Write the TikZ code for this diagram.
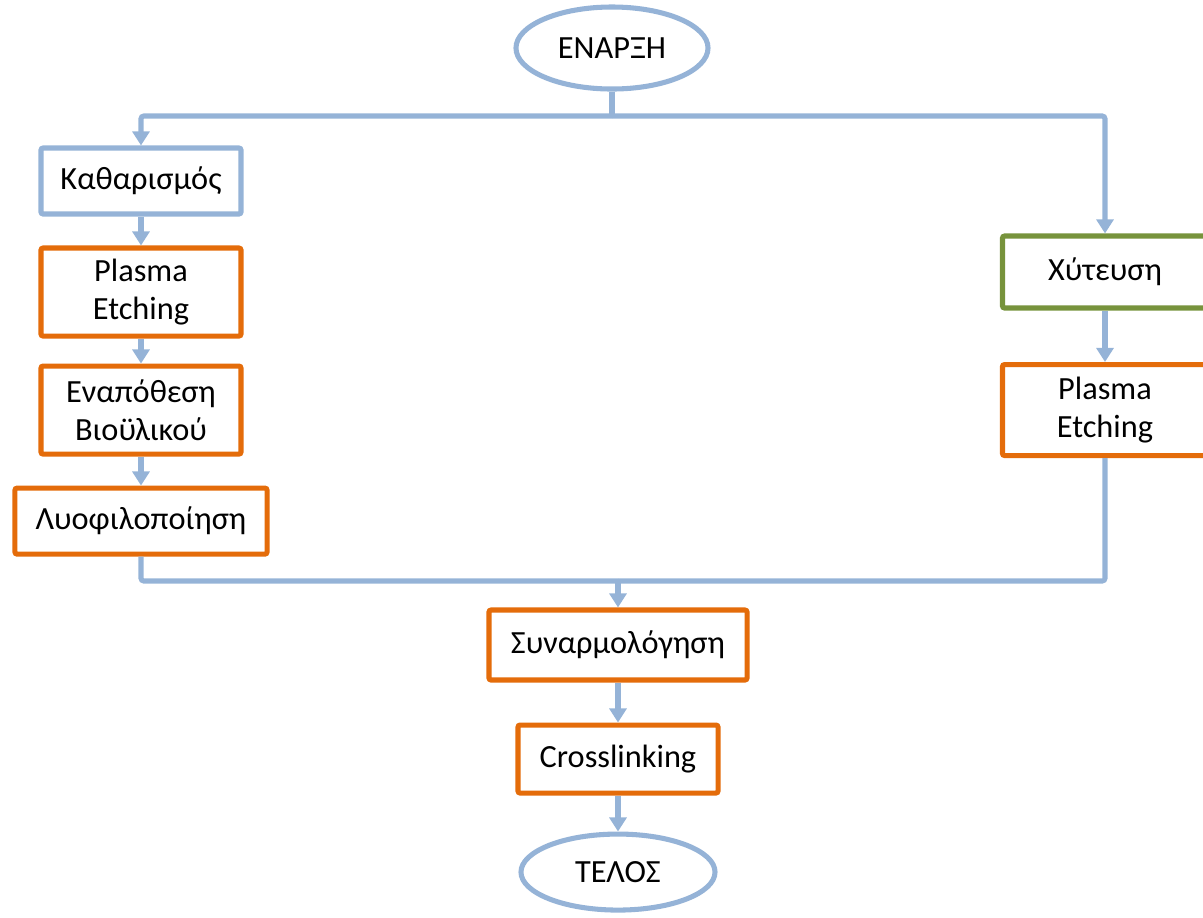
\documentclass[tikz,border=0pt]{standalone}
\usepackage{fontspec}
\setmainfont{Carlito}
\usepackage{tikz}
\usetikzlibrary{shapes,arrows.meta}
\definecolor{flowBlue}{RGB}{149,179,215}
\definecolor{flowOrange}{RGB}{228,108,10}
\definecolor{flowGreen}{RGB}{119,147,60}
\tikzstyle{stage} = [rectangle, draw, line width=3.6pt, rounded corners=1.5pt,
    fill=white, align=center, font=\fontsize{23}{27}\selectfont]
\tikzstyle{blueStage} = [stage, draw=flowBlue]
\tikzstyle{orangeStage} = [stage, draw=flowOrange]
\tikzstyle{greenStage} = [stage, draw=flowGreen]
\tikzstyle{terminator} = [ellipse, draw=flowBlue, line width=3.6pt, fill=white,
    font=\fontsize{23}{27}\selectfont]
\tikzstyle{flowLine} = [draw=flowBlue, line width=3.6pt, rounded corners=2pt]
\tikzstyle{conversion} = [flowLine, -{Triangle[width=12pt,length=10pt]}]

\begin{document}
\begin{tikzpicture}[x=0.025cm, y=-0.025cm]
    \clip (0,0) rectangle (1203,917);
    % Place nodes
    \node[terminator, minimum width=4.8cm, minimum height=2.05cm] (start) at (612,48) {ΕΝΑΡΞΗ};
    \node[blueStage, minimum width=5cm, minimum height=1.65cm] (cleaning) at (141,181) {Καθαρισμός};
    \node[orangeStage, below of=cleaning, node distance=2.775cm, minimum width=5cm, minimum height=2.2cm] (etchLeft) {Plasma\\Etching};
    \node[orangeStage, below of=etchLeft, node distance=2.95cm, minimum width=5cm, minimum height=2.2cm] (deposition) {Εναπόθεση\\Βιοϋλικού};
    \node[orangeStage, below of=deposition, node distance=2.775cm, minimum width=6.3cm, minimum height=1.65cm] (freezeDry) {Λυοφιλοποίηση};
    \node[greenStage, minimum width=5.125cm, minimum height=1.8cm] (casting) at (1105,272) {Χύτευση};
    \node[orangeStage, below of=casting, node distance=3.45cm, minimum width=5.125cm, minimum height=2.275cm] (etchRight) {Plasma\\Etching};
    \node[orangeStage, minimum width=6.45cm, minimum height=1.75cm] (assembly) at (618,645) {Συναρμολόγηση};
    \node[orangeStage, below of=assembly, node distance=2.85cm, minimum width=5cm, minimum height=1.7cm] (crosslink) {Crosslinking};
    \node[terminator, below of=crosslink, node distance=2.825cm, minimum width=4.85cm, minimum height=1.9cm] (finish) {ΤΕΛΟΣ};
    \coordinate (split) at (612,116);
    \coordinate (merge) at (618,581);

    % Draw edges
    \path[flowLine] (start) -- (split);
    \path[conversion] (split) -| (cleaning);
    \path[conversion] (split) -| (casting);
    \path[conversion] (cleaning) -- (etchLeft);
    \path[conversion] (etchLeft) -- (deposition);
    \path[conversion] (deposition) -- (freezeDry);
    \path[conversion] (casting) -- (etchRight);
    \path[flowLine] (freezeDry) |- (merge);
    \path[flowLine] (etchRight) |- (merge);
    \path[conversion] (merge) -- (assembly);
    \path[conversion] (assembly) -- (crosslink);
    \path[conversion] (crosslink) -- (finish);
\end{tikzpicture}
\end{document}
